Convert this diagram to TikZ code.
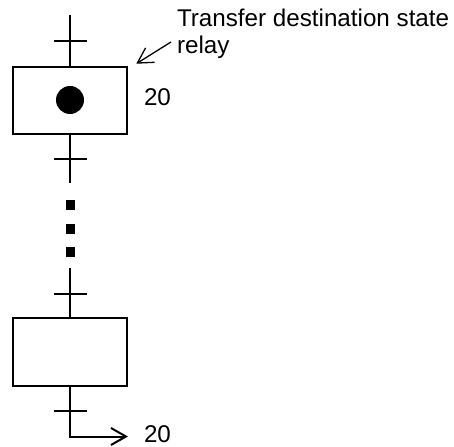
\documentclass[tikz,border=0pt]{standalone}
\usepackage{fontspec}
\setmainfont{Liberation Sans}
\usetikzlibrary{arrows.meta,positioning}

\begin{document}
\begin{tikzpicture}[x=1pt, y=-1pt, line width=2pt,
  every node/.style={font=\fontsize{24.2}{27}\selectfont},
  stepbox/.style={draw, line width=2pt, minimum width=114.5pt, minimum height=67.5pt, inner sep=0pt},
  token/.style={circle, fill, minimum size=28pt, inner sep=0pt},
  openarrow/.style={-{Straight Barb[length=15pt,width=17pt]}}]
  \useasboundingbox (0,0) rectangle (454,446);
  % steps
  \node[stepbox] (s20) at (70,100.5) {};
  \node[token] (tok) at (70,100) {};
  \node[stepbox] (s21) at (70,352) {};
  \node[anchor=base west, inner sep=0pt] (n20) at (143,106) {20};
  % free ends of the flow line
  \coordinate (top) at (70,15);
  \coordinate (mid1) at (70,183);
  \coordinate (mid2) at (70,268);
  \coordinate (bend) at (70,436.5);
  \coordinate (jump) at (128,436.5);
  \draw (top) -- (s20);
  \draw (s20) -- (mid1);
  \draw (mid2) -- (s21);
  \draw[openarrow] (s21) -- (bend) -- (jump);
  \node[anchor=base west, inner sep=0pt] (j20) at (143,442) {20};
  % transitions
  \coordinate (tk1) at (70,41);
  \coordinate (tk2) at (70,159);
  \coordinate (tk3) at (70,293.5);
  \coordinate (tk4) at (70,411);
  \foreach \t in {tk1,tk2,tk3,tk4} {
    \draw ([xshift=-16pt]\t) -- ([xshift=17pt]\t);
  }
  % omitted steps
  \foreach \y in {205,229,252} {
    \fill (65.5,\y-5) rectangle (74.5,\y+5);
  }
  % callout
  \node[anchor=base west, inner sep=0pt] (lbl) at (176,27) {Transfer destination state};
  \node[anchor=base west, inner sep=0pt] (lbl2) at ([yshift=-27pt]lbl.base west) {relay};
  \coordinate (callout) at (171,42);
  \draw[openarrow, line width=1.3pt] (callout) -- ([xshift=8pt,yshift=2pt]s20.north east);
\end{tikzpicture}
\end{document}
